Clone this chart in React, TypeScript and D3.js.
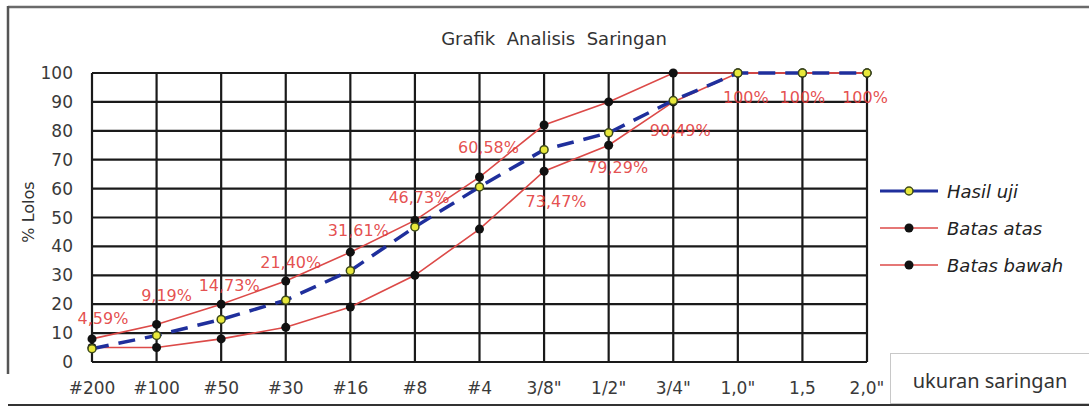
import * as d3 from 'd3';

// sieve sizes on the x axis
const sieves = ['#200', '#100', '#50', '#30', '#16', '#8', '#4', '3/8"', '1/2"', '3/4"', '1,0"', '1,5', '2,0"'];
// % passing
const hasilUji = [4.59, 9.19, 14.73, 21.4, 31.61, 46.73, 60.58, 73.47, 79.29, 90.49, 100, 100, 100];
const batasAtas = [8, 13, 20, 28, 38, 49, 64, 82, 90, 100, 100, 100, 100];
const batasBawah = [5, 5, 8, 12, 19, 30, 46, 66, 75, 90, 100, 100, 100];
const yTicks = [0, 10, 20, 30, 40, 50, 60, 70, 80, 90, 100];

// label nudges (dx, dy) from each Hasil uji point, like Excel's placement
const labelNudge: [number, number][] = [
  [11, -30], [10, -40], [8, -34], [5, -38], [8, -40], [4, -29], [9, -39],
  [12, 52], [9, 35], [7, 30], [8, 24], [0, 24], [-2, 24],
];

const W = 1089;
const H = 407;
const FONT = '"DejaVu Sans", sans-serif';

const fmt = (v: number) => (v === 100 ? '100%' : v.toFixed(2).replace('.', ',') + '%');

export default function App() {
  const x = d3.scalePoint<string>().domain(sieves).range([92, 867]);
  const y = d3.scaleLinear().domain([0, 100]).range([362, 73]);

  const line = d3.line<number>()
    .x((_, i) => x(sieves[i]) ?? 0)
    .y((d) => y(d));

  const red = '#dc4a48';
  const blue = '#1f2f9c';
  const grid = '#1a1a1a';

  const legend = [
    { name: 'Hasil uji', y: 191, kind: 'hasil' },
    { name: 'Batas atas', y: 228, kind: 'batas' },
    { name: 'Batas bawah', y: 265, kind: 'batas' },
  ];

  return (
    <svg width={W} height={H} style={{ position: 'absolute', left: 0, top: 0, background: '#fff' }} fontFamily={FONT}>
      {/* frame */}
      <line x1={8} x2={W} y1={7} y2={7} stroke="#6a6a6a" strokeWidth={2.5} />
      <line x1={8} x2={8} y1={6} y2={374} stroke="#555" strokeWidth={2.5} />
      <line x1={8} x2={W} y1={405} y2={405} stroke="#333" strokeWidth={2} />

      <text x={554} y={38} textAnchor="middle" dominantBaseline="central" fontSize={18} fill="#333" style={{ whiteSpace: 'pre' }}>
        {'Grafik  Analisis  Saringan'}
      </text>

      {/* grid */}
      {yTicks.map((t) => (
        <line key={'h' + t} x1={x.range()[0]} x2={x.range()[1]} y1={y(t)} y2={y(t)} stroke={grid} strokeWidth={2.2} />
      ))}
      {sieves.map((s) => (
        <line key={'v' + s} x1={x(s)} x2={x(s)} y1={y(0)} y2={y(100)} stroke={grid} strokeWidth={2.2} />
      ))}

      {/* y ticks */}
      {yTicks.map((t) => (
        <text key={'yt' + t} x={73} y={y(t)} textAnchor="end" dominantBaseline="central" fontSize={17} fill="#3a3a3a">
          {t}
        </text>
      ))}
      <text transform={`translate(28,212) rotate(-90)`} textAnchor="middle" dominantBaseline="central" fontSize={16} fill="#333">
        % Lolos
      </text>

      {/* x ticks */}
      {sieves.map((s) => (
        <text key={'xt' + s} x={x(s)} y={388} textAnchor="middle" dominantBaseline="central" fontSize={17} fill="#3a3a3a">
          {s}
        </text>
      ))}

      {/* limits */}
      <path d={line(batasAtas) ?? ''} fill="none" stroke={red} strokeWidth={1.6} />
      <path d={line(batasBawah) ?? ''} fill="none" stroke={red} strokeWidth={1.6} />
      {batasAtas.map((v, i) => (
        <circle key={'a' + i} cx={x(sieves[i])} cy={y(v)} r={4.5} fill="#111" />
      ))}
      {batasBawah.map((v, i) => (
        <circle key={'b' + i} cx={x(sieves[i])} cy={y(v)} r={4.5} fill="#111" />
      ))}

      {/* test result */}
      <path d={line(hasilUji) ?? ''} fill="none" stroke={blue} strokeWidth={3.5} strokeDasharray="17 10" />
      {hasilUji.map((v, i) => (
        <circle key={'h' + i} cx={x(sieves[i])} cy={y(v)} r={4} fill="#e8e83a" stroke="#3d4a1a" strokeWidth={1.5} />
      ))}

      {/* data labels */}
      {hasilUji.map((v, i) => (
        <text
          key={'l' + i}
          x={(x(sieves[i]) ?? 0) + labelNudge[i][0]}
          y={y(v) + labelNudge[i][1]}
          textAnchor="middle"
          dominantBaseline="central"
          fontSize={16}
          fill="#e23a3a"
          fillOpacity={0.9}
        >
          {fmt(v)}
        </text>
      ))}

      {/* legend */}
      {legend.map((l) => (
        <g key={l.name}>
          <line x1={880} x2={938} y1={l.y} y2={l.y} stroke={l.kind === 'hasil' ? blue : red} strokeWidth={l.kind === 'hasil' ? 3 : 1.6} />
          {l.kind === 'hasil' ? (
            <circle cx={909} cy={l.y} r={4} fill="#e8e83a" stroke="#3d4a1a" strokeWidth={1.5} />
          ) : (
            <circle cx={909} cy={l.y} r={4.5} fill="#111" />
          )}
          <text x={947} y={l.y} dominantBaseline="central" fontSize={18} fontStyle="italic" fill="#222">
            {l.name}
          </text>
        </g>
      ))}

      {/* axis title box */}
      <rect x={890.5} y={353.5} width={W - 890} height={50} fill="#fff" stroke="#c8c8c8" strokeWidth={1} />
      <text x={990} y={380} textAnchor="middle" dominantBaseline="central" fontSize={20} fontFamily='"Noto Sans", sans-serif' fill="#333">
        ukuran saringan
      </text>
    </svg>
  );
}
